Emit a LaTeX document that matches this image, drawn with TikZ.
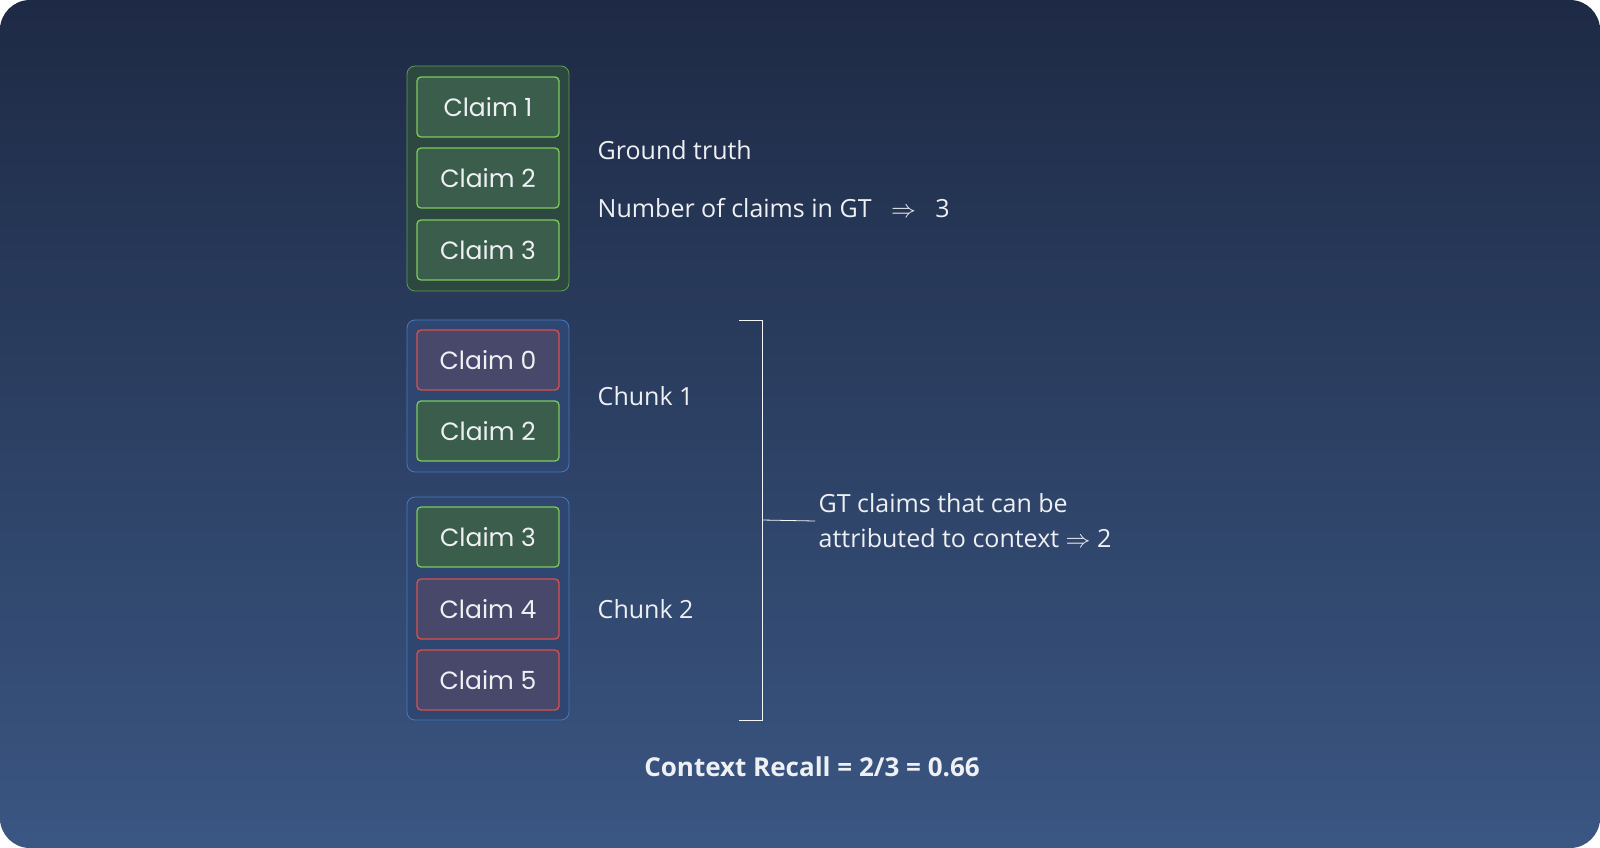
\documentclass[tikz,border=0pt]{standalone}
\usepackage{fontspec}
\setmainfont{Open Sans}
\newfontfamily\claimfont{Poppins}
\usetikzlibrary{shapes, backgrounds}
\definecolor{bgtop}{HTML}{1E2A45}
\definecolor{bgbot}{HTML}{3A5682}
\definecolor{okline}{HTML}{7CCB5C}
\definecolor{okfill}{HTML}{3B5E4C}
\definecolor{badline}{HTML}{D9504F}
\definecolor{badfill}{HTML}{48486A}
\definecolor{gtline}{HTML}{5E9E4E}
\definecolor{gtfill}{HTML}{2D4840}
\definecolor{chline}{HTML}{4779C2}
\definecolor{chfill}{HTML}{2E4670}
\definecolor{txt}{HTML}{EEF0F4}

\begin{document}
\begin{tikzpicture}[x=1pt,y=-1pt,thick]

\tikzstyle{ok}=[rectangle, rounded corners=4pt, line width=1.3pt, fill=okfill, draw=okline, text=txt, minimum width=142pt, minimum height=60pt, font=\claimfont\fontsize{25}{25}\selectfont]
\tikzstyle{bad}=[ok, fill=badfill, draw=badline]
\tikzstyle{lbl}=[anchor=west, text=txt, font=\fontsize{25}{30}\selectfont]

	% card
	\fill[white] (0,0) rectangle (1600,848);
	\shade[top color=bgtop, bottom color=bgbot, rounded corners=30pt] (0,0) rectangle (1600,848);

	\filldraw[gtfill, draw=gtline, line width=0.8pt, rounded corners=8pt] (407,66) rectangle (569,291);
	\filldraw[chfill, draw=chline, line width=0.8pt, rounded corners=8pt] (407,320) rectangle (569,472);
	\filldraw[chfill, draw=chline, line width=0.8pt, rounded corners=8pt] (407,497) rectangle (569,720);

	\node[ok] (g1) at (488,107) {Claim 1};
	\node[ok] (g2) at (488,178) {Claim 2};
	\node[ok] (g3) at (488,250) {Claim 3};

	\node[bad] (a0) at (488,360) {Claim 0};
	\node[ok]  (a2) at (488,431) {Claim 2};

	\node[ok]  (b3) at (488,537) {Claim 3};
	\node[bad] (b4) at (488,609) {Claim 4};
	\node[bad] (b5) at (488,680) {Claim 5};

	\node[lbl] (gt) at (594,150) {Ground truth};
	\node[lbl] (ngt) at (594,208) {Number of claims in GT \ \ $\Rightarrow$ \ \ 3};
	\node[lbl] (c1) at (594,396) {Chunk 1};
	\node[lbl] (c2) at (594,609) {Chunk 2};
	\node[lbl, align=left, font=\fontsize{25}{35}\selectfont] (att) at (815,521) {GT claims that can be\\attributed to context $\Rightarrow$ 2};

	% bracket
	\coordinate (bt) at (739,320);
	\coordinate (bb) at (739,720);
	\draw[txt!60, line width=0.8pt] (bt) -- (762,320) -- (762,720) -- (bb);
	\draw[txt!60, line width=0.8pt] (762,520) -- (att.west);

	\node[text=txt, font=\bfseries\fontsize{26}{30}\selectfont] (cr) at (812,767) {Context Recall = 2/3 = 0.66};
\end{tikzpicture}
\end{document}
